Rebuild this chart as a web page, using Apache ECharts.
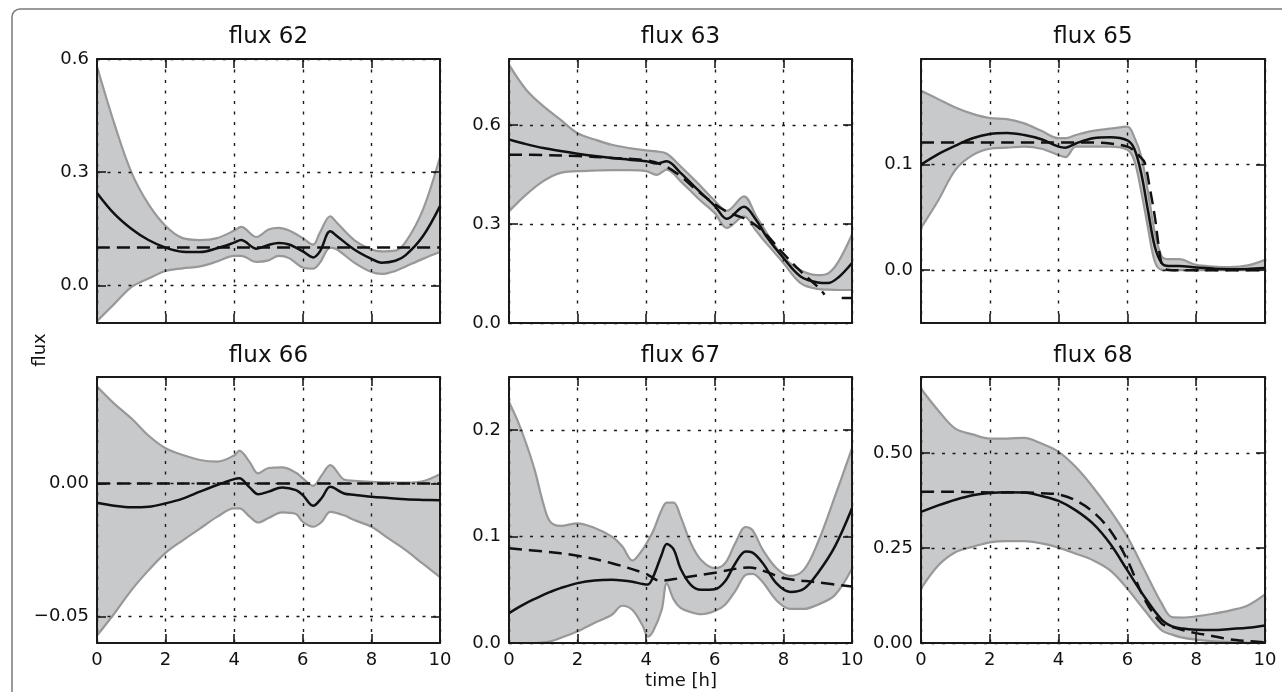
<!DOCTYPE html>
<html><head><meta charset="utf-8">
<script src="https://cdn.jsdelivr.net/npm/echarts@6/dist/echarts.min.js"></script>
<style>html,body{margin:0;padding:0;background:#fff}#c{width:1286px;height:692px}</style>
</head><body><div id="c"></div><script>
// ---------- data ----------
const TITLES = ['flux 62','flux 63','flux 65','flux 66','flux 67','flux 68'];
const XTICKS = [0,2,4,6,8,10];

const T62 = [0,0.5,1,1.5,2,2.5,3,3.5,4,4.2,4.65,5,5.3,5.6,6,6.3,6.5,6.8,7,7.5,8,8.3,8.7,9,9.5,10];
const U62 = [0.58,0.43,0.30,0.215,0.157,0.125,0.12,0.125,0.145,0.155,0.128,0.148,0.152,0.145,0.125,0.108,0.14,0.183,0.165,0.12,0.095,0.09,0.092,0.115,0.2,0.34];
const M62 = [0.245,0.19,0.15,0.12,0.1,0.089,0.088,0.098,0.113,0.12,0.097,0.107,0.112,0.108,0.09,0.074,0.09,0.143,0.13,0.095,0.07,0.06,0.065,0.08,0.13,0.21];
const L62 = [-0.095,-0.05,-0.005,0.018,0.038,0.045,0.05,0.063,0.078,0.078,0.062,0.066,0.078,0.072,0.047,0.044,0.06,0.1,0.095,0.06,0.035,0.03,0.038,0.05,0.07,0.088];
const DT62 = [0,10];
const D62 = [0.1,0.1];
const Y62 = [0,0.3,0.6];

const T63 = [0,0.5,1,1.5,2,2.5,3,3.5,4,4.3,4.6,5,5.5,6,6.35,6.85,7.2,7.5,8,8.5,9,9.3,9.6,10];
const U63 = [0.783,0.707,0.657,0.616,0.575,0.556,0.54,0.53,0.523,0.52,0.513,0.475,0.424,0.37,0.34,0.384,0.325,0.275,0.2,0.16,0.145,0.15,0.185,0.268];
const M63 = [0.556,0.542,0.53,0.521,0.513,0.506,0.5,0.495,0.49,0.483,0.49,0.455,0.404,0.355,0.316,0.352,0.313,0.263,0.197,0.141,0.123,0.121,0.138,0.182];
const L63 = [0.338,0.389,0.43,0.455,0.46,0.462,0.463,0.463,0.46,0.449,0.465,0.43,0.379,0.333,0.288,0.323,0.28,0.242,0.182,0.121,0.103,0.101,0.1,0.1];
const DT63 = [0,1,2,3,4,4.5,5,5.5,6,6.4,7,7.5,8,8.5,9,9.2,9.45,9.7,10];
const D63 = [0.51,0.509,0.506,0.5,0.493,0.478,0.445,0.4,0.36,0.335,0.31,0.268,0.21,0.157,0.11,0.086,null,0.076,0.076];
const Y63 = [0,0.3,0.6];

const T65 = [0,0.5,1,1.5,2,2.5,3,3.5,4,4.2,4.5,5,5.5,6,6.2,6.4,6.6,6.8,7,7.2,7.5,8,8.5,9,9.5,10];
const U65 = [0.17,0.162,0.154,0.148,0.144,0.143,0.139,0.132,0.125,0.125,0.128,0.132,0.134,0.136,0.126,0.108,0.074,0.035,0.013,0.0104,0.0104,0.005,0.0035,0.003,0.0045,0.0098];
const M65 = [0.1,0.11,0.118,0.125,0.129,0.13,0.128,0.124,0.117,0.116,0.12,0.125,0.126,0.123,0.115,0.092,0.056,0.022,0.0066,0.004,0.004,0.0025,0.0015,0.001,0.0012,0.002];
const L65 = [0.04,0.066,0.095,0.109,0.115,0.116,0.117,0.115,0.109,0.107,0.117,0.117,0.117,0.114,0.104,0.075,0.04,0.008,0.0003,0,0,0,0,0,0,0.0003];
const DT65 = [0,1,2,3,4,5,5.5,6,6.2,6.35,6.5,6.65,6.8,6.9,7.0,7.15,7.5,8,9,10];
const D65 = [0.121,0.121,0.121,0.121,0.121,0.121,0.12,0.117,0.113,0.108,0.102,0.078,0.05,0.025,0.006,0.0005,0,0,0,0];
const Y65 = [0,0.1];

const T66 = [0,0.5,1,1.5,2,2.5,3,3.5,4,4.15,4.45,4.7,5,5.4,5.8,6,6.3,6.55,6.8,7.2,7.5,8,8.5,9,9.5,10];
const U66 = [0.0364,0.030,0.0245,0.018,0.0132,0.0107,0.0088,0.0082,0.0105,0.0123,0.008,0.0038,0.0058,0.006,0.004,0.0019,-0.0009,0.003,0.0069,0.0015,0.001,0.0006,0.0004,0.0003,0.0008,0.0034];
const M66 = [-0.0073,-0.0084,-0.009,-0.0088,-0.0075,-0.0057,-0.0031,-0.0006,0.0016,0.0019,-0.0015,-0.0041,-0.0031,-0.0015,-0.0025,-0.0044,-0.0084,-0.0055,-0.0013,-0.0038,-0.0043,-0.005,-0.0055,-0.006,-0.0062,-0.0063];
const L66 = [-0.0572,-0.049,-0.0402,-0.0327,-0.0261,-0.0214,-0.017,-0.0126,-0.0094,-0.0094,-0.0125,-0.0147,-0.013,-0.0109,-0.0115,-0.0145,-0.0163,-0.0145,-0.0107,-0.012,-0.0138,-0.0163,-0.0207,-0.0251,-0.0302,-0.0352];
const DT66 = [0,10];
const D66 = [0,0];
const Y66 = [-0.05,0];

const T67 = [0,0.25,0.5,0.75,1,1.2,1.5,2,2.5,3,3.3,3.6,3.9,4.05,4.2,4.45,4.6,4.8,5,5.3,5.6,6,6.3,6.6,6.9,7.1,7.4,7.8,8.2,8.6,9,9.5,10];
const U67 = [0.2266,0.209,0.1875,0.1625,0.131,0.114,0.11,0.1125,0.108,0.1,0.091,0.0775,0.088,0.096,0.105,0.125,0.132,0.132,0.119,0.094,0.078,0.0703,0.075,0.094,0.109,0.106,0.0875,0.0703,0.063,0.069,0.094,0.1375,0.183];
const M67 = [0.028,0.033,0.0375,0.0415,0.0453,0.048,0.0516,0.0563,0.0588,0.0594,0.0588,0.0575,0.0555,0.055,0.062,0.083,0.093,0.088,0.07,0.0547,0.05,0.0505,0.058,0.075,0.086,0.085,0.075,0.056,0.048,0.051,0.0656,0.0906,0.1266];
const L67 = [0,0,0,0,0.0006,0.0015,0.0047,0.011,0.019,0.0266,0.035,0.031,0.016,0.006,0.011,0.031,0.056,0.041,0.033,0.029,0.027,0.03,0.036,0.049,0.064,0.065,0.057,0.04,0.032,0.032,0.036,0.045,0.07];
const DT67 = [0,1,2,3,4,4.1,4.4,5,6,7,7.5,8,9,10];
const D67 = [0.089,0.086,0.082,0.075,0.065,0.063,0.0585,0.061,0.066,0.071,0.067,0.061,0.057,0.053];
const Y67 = [0,0.1,0.2];

const T68 = [0,0.5,1,1.5,2,2.5,3,3.5,4,4.5,5,5.5,6,6.5,7,7.3,7.6,8,8.5,9,9.5,10];
const U68 = [0.669,0.612,0.564,0.549,0.538,0.538,0.54,0.525,0.503,0.463,0.41,0.349,0.279,0.191,0.1035,0.068,0.067,0.07,0.077,0.086,0.099,0.128];
const M68 = [0.345,0.362,0.377,0.389,0.395,0.397,0.396,0.387,0.374,0.349,0.314,0.261,0.191,0.121,0.061,0.044,0.038,0.035,0.034,0.037,0.04,0.046];
const L68 = [0.143,0.204,0.239,0.253,0.265,0.268,0.268,0.262,0.251,0.235,0.218,0.191,0.143,0.086,0.033,0.022,0.014,0.0088,0.0044,0.0026,0.001,0];
const DT68 = T68;
const D68 = [0.398,0.398,0.398,0.397,0.396,0.396,0.396,0.394,0.391,0.375,0.345,0.296,0.218,0.115,0.051,0.042,0.034,0.026,0.018,0.009,0.005,0.002];
const Y68 = [0,0.25,0.5];

const YMIN = [-0.1, 0, -0.05, -0.06, 0, 0];
const YMAX = [0.6, 0.8, 0.2, 0.04, 0.25, 0.7];
const YDEC = [1, 1, 1, 2, 1, 2];

const PANELS = [
  {t:T62,up:U62,mean:M62,low:L62,dt:DT62,d:D62,yt:Y62},
  {t:T63,up:U63,mean:M63,low:L63,dt:DT63,d:D63,yt:Y63},
  {t:T65,up:U65,mean:M65,low:L65,dt:DT65,d:D65,yt:Y65},
  {t:T66,up:U66,mean:M66,low:L66,dt:DT66,d:D66,yt:Y66},
  {t:T67,up:U67,mean:M67,low:L67,dt:DT67,d:D67,yt:Y67},
  {t:T68,up:U68,mean:M68,low:L68,dt:DT68,d:D68,yt:Y68}
];

// ---------- layout & style ----------
const GRIDS = [
  {left:97, top:59, width:343, height:264},
  {left:509, top:59, width:343, height:264},
  {left:921, top:59, width:344, height:264},
  {left:97, top:377, width:343, height:266},
  {left:509, top:377, width:343, height:266},
  {left:921, top:377, width:344, height:266}
];
const FONT = 'DejaVu Sans';
const FILL = '#c8c9cb';
const EDGE = '#989898';
const INK = '#111111';
const SPINE = '#1a1a1a';
const GRIDLINE = {color:'#1a1a1a', width:1.4, type:[3,7.5]};
const SMOOTH = 0.35;
const TICK_FS = 18;

const grid = GRIDS.map(g => Object.assign({outerBoundsMode:'none', containLabel:false}, g));
const xAxis = [], yAxis = [], series = [];

function fmtY(v, dec){ return (v < 0 ? '\u2212' : '') + Math.abs(v).toFixed(dec); }

PANELS.forEach((P, i) => {
  const bottomRow = i >= 3;
  const axisBase = {
    gridIndex:i, type:'value', z:2,
    axisLine:{show:true, onZero:false, lineStyle:{color:SPINE, width:2}},
    axisTick:{show:true, inside:true, length:9, lineStyle:{color:SPINE, width:1.6}}
  };
  xAxis.push(Object.assign({}, axisBase, {
    position:'bottom', min:0, max:10, interval:2,
    axisLabel:{show:bottomRow, margin:8, color:INK, fontFamily:FONT, fontSize:TICK_FS},
    splitLine:{show:true, lineStyle:GRIDLINE}
  }));
  xAxis.push(Object.assign({}, axisBase, {
    position:'top', min:0, max:10, interval:2,
    axisLabel:{show:false}, splitLine:{show:false}
  }));
  const dec = YDEC[i];
  yAxis.push(Object.assign({}, axisBase, {
    position:'left', min:YMIN[i], max:YMAX[i],
    axisTick:{show:true, inside:true, length:9, lineStyle:{color:SPINE, width:1.6}, customValues:P.yt},
    axisLabel:{show:true, margin:8, color:INK, fontFamily:FONT, fontSize:TICK_FS, customValues:P.yt,
      formatter: v => fmtY(v, dec)},
    splitLine:{show:true, lineStyle:GRIDLINE}
  }));
  yAxis.push(Object.assign({}, axisBase, {
    position:'right', min:YMIN[i], max:YMAX[i],
    axisTick:{show:true, inside:true, length:9, lineStyle:{color:SPINE, width:1.6}, customValues:P.yt},
    axisLabel:{show:false, customValues:P.yt}, splitLine:{show:false}
  }));

  const xi = 2*i, yi = 2*i;
  const upData = P.t.map((x,k) => [x, P.up[k]]);
  const lowData = P.t.map((x,k) => [x, P.low[k]]);
  const meanData = P.t.map((x,k) => [x, P.mean[k]]);
  const dashData = P.dt.map((x,k) => [x, P.d[k]]);
  // band: grey area under the upper bound, then white area under the lower bound
  series.push({
    type:'line', xAxisIndex:xi, yAxisIndex:yi, data:upData,
    smooth:SMOOTH, symbol:'none', lineStyle:{color:EDGE, width:2.2},
    areaStyle:{color:FILL, opacity:1, origin:'start'}, z:1, silent:true
  });
  series.push({
    type:'line', xAxisIndex:xi, yAxisIndex:yi, data:lowData,
    smooth:SMOOTH, symbol:'none', lineStyle:{color:EDGE, width:2.2},
    areaStyle:{color:'#ffffff', opacity:1, origin:'start'}, z:1, silent:true
  });
  series.push({
    type:'line', xAxisIndex:xi, yAxisIndex:yi, data:dashData, connectNulls:false,
    smooth:SMOOTH, symbol:'none', lineStyle:{color:INK, width:2.5, type:[13,7]}, z:4, silent:true
  });
  series.push({
    type:'line', xAxisIndex:xi, yAxisIndex:yi, data:meanData,
    smooth:SMOOTH, symbol:'none', lineStyle:{color:INK, width:2.5}, z:5, silent:true
  });
});

const TITLE_Y = [37.5, 356];
const graphic = [
  {type:'polyline', shape:{points:[[1282,9],[20,9],[16.9,9.6],[14.3,11.3],[12.6,13.9],[12,17],[12,692]]},
    style:{fill:null, stroke:'#7a7a7a', lineWidth:1.5}, silent:true},
  {type:'text', x:40, y:350, rotation:Math.PI/2, style:{text:'flux', fill:INK, font:'18px "DejaVu Sans"', align:'center', verticalAlign:'middle'}},
  {type:'text', x:681, y:681, style:{text:'time [h]', fill:INK, font:'18px "DejaVu Sans"', align:'center', verticalAlign:'middle'}}
];
TITLES.forEach((tt, i) => {
  const g = GRIDS[i];
  graphic.push({type:'text', x:g.left + g.width/2, y:TITLE_Y[i >= 3 ? 1 : 0],
    style:{text:tt, fill:INK, font:'23px "DejaVu Sans"', align:'center', verticalAlign:'middle'}});
});

const chart = echarts.init(document.getElementById('c'), null, {renderer:'canvas'});
chart.setOption({
  animation:false, backgroundColor:'#ffffff',
  grid, xAxis, yAxis, series, graphic
});
</script></body></html>
